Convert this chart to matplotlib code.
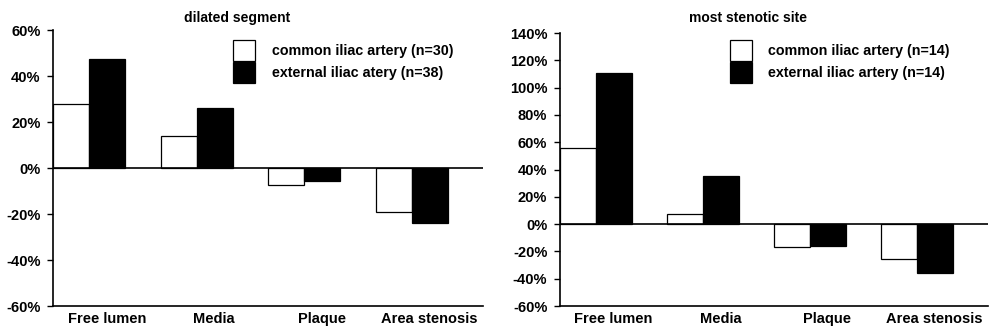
import matplotlib.pyplot as plt
import numpy as np
from matplotlib.patches import Patch

plt.rcParams['font.family'] = ['Liberation Sans', 'DejaVu Sans']
plt.rcParams['axes.unicode_minus'] = False

categorias = ['Free lumen', 'Media', 'Plaque', 'Area stenosis']

# cambio porcentual, segmento dilatado
dil_common = [28, 14, -7.5, -19]
dil_external = [47.5, 26, -5.5, -24]

# cambio porcentual, sitio más estenótico
sten_common = [56, 7.5, -17, -25.5]
sten_external = [110.5, 35, -16, -35.5]

ticks_izq = [-60, -40, -20, 0, 20, 40, 60]
ticks_der = [-60, -40, -20, 0, 20, 40, 60, 80, 100, 120, 140]


def panel(ax, comun, externa, titulo, lab_c, lab_e, yticks, tpos, leg_xy):
    x = np.arange(len(categorias))
    w = 0.335
    ax.bar(x, comun, width=w, align='edge', color='white',
           edgecolor='black', linewidth=0.9)
    ax.bar(x + w, externa, width=w, align='edge', color='black',
           edgecolor='black', linewidth=0.9)
    ax.axhline(0, color='black', lw=1.2, zorder=3)

    ax.set_xlim(0, len(categorias))
    ax.set_ylim(yticks[0], yticks[-1])
    ax.set_yticks(yticks)
    ax.set_yticklabels(['%d%%' % t for t in yticks], fontsize=10.5,
                       fontweight='bold')
    ax.set_xticks(x + 0.5)
    ax.set_xticklabels(categorias, fontsize=10.5, fontweight='bold')
    ax.tick_params(axis='x', length=0, pad=4)
    ax.tick_params(axis='y', length=4, width=1, pad=5)

    for s in ['top', 'right']:
        ax.spines[s].set_visible(False)
    for s in ['left', 'bottom']:
        ax.spines[s].set_linewidth(1.2)

    ax.text(tpos[0], tpos[1], titulo, transform=ax.transAxes, ha='center',
            va='center', fontsize=10, fontweight='bold')

    handles = [Patch(facecolor='white', edgecolor='black', lw=0.9, label=lab_c),
               Patch(facecolor='black', edgecolor='black', lw=0.9, label=lab_e)]
    ax.legend(handles=handles, loc='upper left', bbox_to_anchor=leg_xy,
              frameon=False, handlelength=1.55, handleheight=1.85,
              labelspacing=0.08, handletextpad=1.15,
              borderpad=0, borderaxespad=0, prop={'weight': 'bold', 'size': 10.3})


fig = plt.figure(figsize=(9.89, 3.31), dpi=100)
ax1 = fig.add_axes([0.0536, 0.0755, 0.4348, 0.8335])
ax2 = fig.add_axes([0.566, 0.0755, 0.433, 0.8245])

panel(ax1, dil_common, dil_external, 'dilated segment',
      'common iliac artery (n=30)', 'external iliac atery (n=38)',
      ticks_izq, (0.428, 1.043), (0.419, 0.964))
panel(ax2, sten_common, sten_external, 'most stenotic site',
      'common iliac artery (n=14)', 'external iliac artery (n=14)',
      ticks_der, (0.44, 1.055), (0.397, 0.974))

plt.savefig('out.png', dpi=100)
